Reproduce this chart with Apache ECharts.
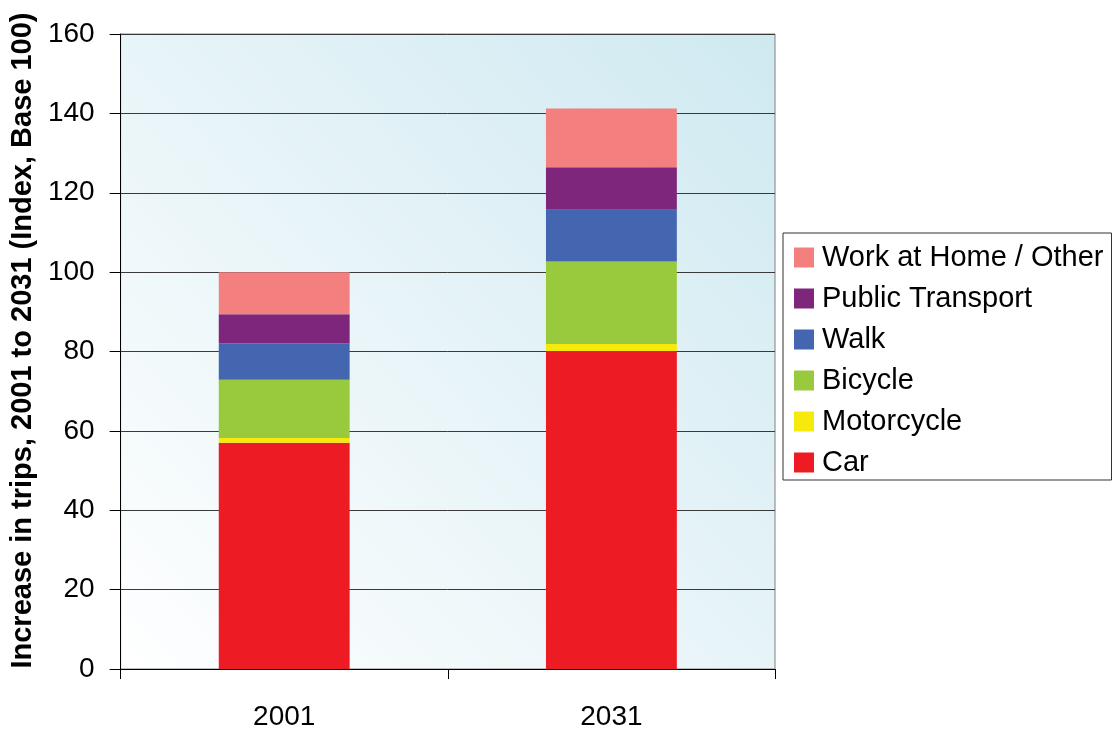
<!DOCTYPE html>
<html>
<head>
<meta charset="utf-8">
<script src="https://cdn.jsdelivr.net/npm/echarts@6/dist/echarts.min.js"></script>
<style>
html,body{margin:0;padding:0;background:#fff;}
#chart{width:1117px;height:731px;}
</style>
</head>
<body>
<div id="chart"></div>
<script>
// Trip index by mode, 2001 = 100
const years = ['2001', '2031'];
const car = [57.0, 80.1];
const motorcycle = [1.2, 1.8];
const bicycle = [14.7, 20.8];
const walk = [9.2, 13.0];
const publicTransport = [7.3, 10.7];
const workAtHome = [10.6, 14.8];
const yTicks = [0, 20, 40, 60, 80, 100, 120, 140, 160];

const FONT = '"Liberation Sans", Arial, sans-serif';

const seriesDefs = [
  { name: 'Car', data: car, color: '#ed1c24' },
  { name: 'Motorcycle', data: motorcycle, color: '#f5ea0c' },
  { name: 'Bicycle', data: bicycle, color: '#99c93c' },
  { name: 'Walk', data: walk, color: '#4466b0' },
  { name: 'Public Transport', data: publicTransport, color: '#7d267c' },
  { name: 'Work at Home / Other', data: workAtHome, color: '#f47f7f' }
];

const chart = echarts.init(document.getElementById('chart'));
chart.setOption({
  animation: false,
  backgroundColor: '#ffffff',
  grid: {
    left: 119, top: 34, right: 342, bottom: 58,
    show: true,
    borderColor: '#808080',
    borderWidth: 1,
    backgroundColor: {
      type: 'linear', x: 0, y: 1, x2: 1, y2: 0,
      colorStops: [
        { offset: 0, color: '#ffffff' },
        { offset: 1, color: '#cfe9f1' }
      ]
    }
  },
  legend: {
    orient: 'vertical',
    left: 783, top: 233,
    data: seriesDefs.map(s => s.name).reverse(),
    itemWidth: 20, itemHeight: 20, itemGap: 12,
    padding: [10, 8, 3, 11],
    borderColor: '#333', borderWidth: 1,
    backgroundColor: '#fff',
    icon: 'rect',
    textStyle: { fontFamily: FONT, fontSize: 29, color: '#000', padding: [0, 0, 0, 3] }
  },
  xAxis: {
    type: 'category',
    data: years,
    axisLine: { lineStyle: { color: '#000', width: 1 } },
    axisTick: { show: true, alignWithLabel: false, length: 10, lineStyle: { color: '#000' } },
    axisLabel: { fontFamily: FONT, fontSize: 28, color: '#000', margin: 34 }
  },
  yAxis: {
    type: 'value',
    min: 0, max: 160, interval: 20,
    name: 'Increase in trips, 2001 to 2031 (Index, Base 100)',
    nameLocation: 'middle',
    nameGap: 79,
    nameTextStyle: {
      fontFamily: FONT, fontSize: 29, fontWeight: 'bold', color: '#000',
      padding: [0, 0, 0, 22]
    },
    axisLine: { show: true, lineStyle: { color: '#000', width: 1 } },
    axisTick: { show: true, length: 11, lineStyle: { color: '#000' } },
    axisLabel: {
      fontFamily: FONT, fontSize: 28, color: '#000', margin: 26,
      formatter: v => (yTicks.indexOf(v) >= 0 ? String(v) : '')
    },
    splitLine: { lineStyle: { color: '#3a3a3a', width: 1 } }
  },
  series: seriesDefs.map(s => ({
    name: s.name,
    type: 'bar',
    stack: 'trips',
    data: s.data,
    barWidth: '40%',
    itemStyle: { color: s.color }
  }))
});
</script>
</body>
</html>
